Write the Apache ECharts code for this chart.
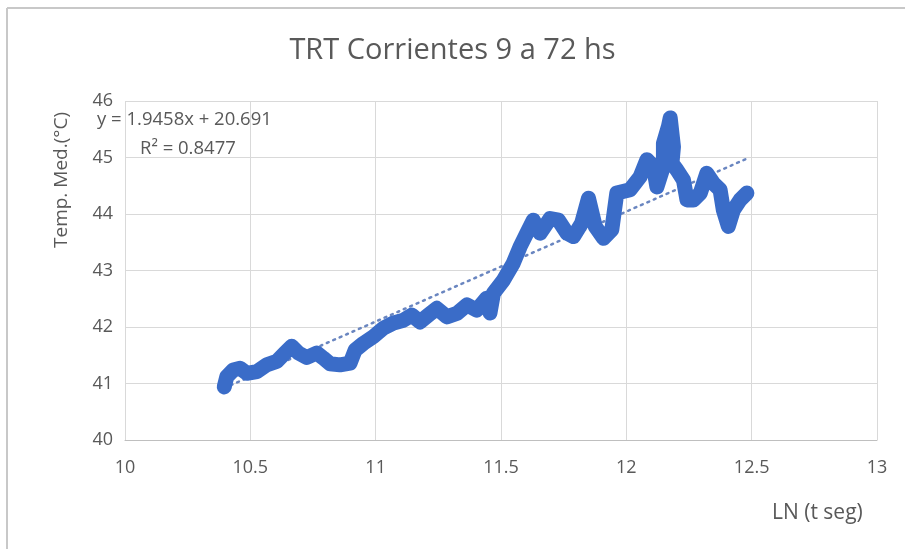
<!DOCTYPE html>
<html>
<head>
<meta charset="utf-8">
<script src="https://cdn.jsdelivr.net/npm/echarts@6/dist/echarts.min.js"></script>
<style>
  html, body { margin: 0; padding: 0; background: #fff; }
  #chart { width: 905px; height: 549px; }
</style>
</head>
<body>
<div id="chart"></div>
<script>
// LN(t) vs mean temperature
const lnT = [
  10.396, 10.406, 10.432, 10.459, 10.486, 10.526, 10.565, 10.605, 10.638, 10.665,
  10.692, 10.725, 10.765, 10.791, 10.818, 10.858, 10.898, 10.918, 10.951, 10.991,
  11.031, 11.071, 11.111, 11.144, 11.177, 11.210, 11.244, 11.284, 11.324, 11.364,
  11.403, 11.443, 11.456, 11.470, 11.510, 11.549, 11.576, 11.603, 11.629, 11.656,
  11.696, 11.729, 11.763, 11.789, 11.822, 11.849, 11.876, 11.909, 11.942, 11.962,
  12.015, 12.055, 12.082, 12.108, 12.122, 12.148, 12.148, 12.168, 12.175, 12.188,
  12.182, 12.202, 12.228, 12.242, 12.268, 12.295, 12.321, 12.348, 12.374, 12.387,
  12.407, 12.427, 12.454, 12.481
];
const tempMed = [
  40.94, 41.12, 41.24, 41.27, 41.18, 41.21, 41.33, 41.39, 41.54, 41.66,
  41.54, 41.46, 41.54, 41.45, 41.35, 41.33, 41.36, 41.59, 41.71, 41.83,
  41.98, 42.07, 42.12, 42.21, 42.09, 42.21, 42.33, 42.18, 42.24, 42.39,
  42.30, 42.51, 42.25, 42.60, 42.83, 43.13, 43.42, 43.66, 43.89, 43.66,
  43.92, 43.89, 43.66, 43.60, 43.84, 44.28, 43.78, 43.57, 43.72, 44.37,
  44.43, 44.66, 44.96, 44.84, 44.48, 44.84, 45.25, 45.55, 45.70, 45.19,
  44.90, 44.78, 44.60, 44.25, 44.25, 44.37, 44.72, 44.54, 44.43, 44.07,
  43.78, 44.07, 44.25, 44.37
];
// linear trend end points: y = 1.9458x + 20.691
const trendX = [10.396, 12.481];
const trendY = [40.92, 44.98];

const xTicks = [10, 10.5, 11, 11.5, 12, 12.5, 13];
const yTicks = [40, 41, 42, 43, 44, 45, 46];

const points = lnT.map((x, i) => [x, tempMed[i]]);
const trend = trendX.map((x, i) => [x, trendY[i]]);

const textColor = "#595959";
const font = "'Open Sans', sans-serif";

let myChart = echarts.init(document.getElementById("chart"));
let option = {
  animation: false,
  backgroundColor: "#fff",
  title: {
    text: "TRT Corrientes 9 a 72 hs",
    left: "center",
    top: 31,
    textStyle: { color: textColor, fontSize: 29, fontWeight: "normal", fontFamily: font }
  },
  grid: { left: 125, right: 28, top: 101, bottom: 109 },
  xAxis: {
    type: "value",
    min: xTicks[0],
    max: xTicks[xTicks.length - 1],
    interval: 0.5,
    axisLine: { show: true, lineStyle: { color: "#bfbfbf" } },
    axisTick: { show: false },
    axisLabel: { color: textColor, fontSize: 18, fontFamily: font, margin: 19 },
    splitLine: { show: true, lineStyle: { color: "#d9d9d9" } }
  },
  yAxis: {
    type: "value",
    min: yTicks[0],
    max: yTicks[yTicks.length - 1],
    interval: 1,
    axisLine: { show: false },
    axisTick: { show: false },
    axisLabel: { color: textColor, fontSize: 18, fontFamily: font, margin: 12 },
    splitLine: { show: true, lineStyle: { color: "#d9d9d9" } }
  },
  series: [
    {
      name: "Lineal",
      type: "line",
      data: trend,
      showSymbol: false,
      lineStyle: { color: "#6a86c0", width: 2.5, type: [2, 5], cap: "round" },
      z: 2
    },
    {
      name: "Temp. Med.",
      type: "line",
      data: points,
      showSymbol: false,
      lineStyle: { color: "#3a6cc8", width: 15, cap: "round", join: "round" },
      z: 3
    }
  ],
  graphic: [
    {
      type: "text", left: 97, top: 110,
      style: { text: "y = 1.9458x + 20.691", fill: textColor, font: "18.5px " + font }
    },
    {
      type: "text", left: 140, top: 139,
      style: { text: "R² = 0.8477", fill: textColor, font: "18.5px " + font }
    },
    {
      type: "text", x: 62, y: 180, rotation: Math.PI / 2,
      style: { text: "Temp. Med.(°C)", fill: textColor, font: "19px " + font,
               align: "center", verticalAlign: "middle" }
    },
    {
      type: "text", left: 772, top: 503,
      style: { text: "LN (t seg)", fill: textColor, font: "21px " + font }
    },
    {
      type: "line", shape: { x1: 7, y1: 8, x2: 7, y2: 549 },
      style: { stroke: "#c8c8c8", lineWidth: 2 }
    },
    {
      type: "line", shape: { x1: 7, y1: 8, x2: 905, y2: 8 },
      style: { stroke: "#c8c8c8", lineWidth: 2 }
    }
  ]
};
myChart.setOption(option);
</script>
</body>
</html>
